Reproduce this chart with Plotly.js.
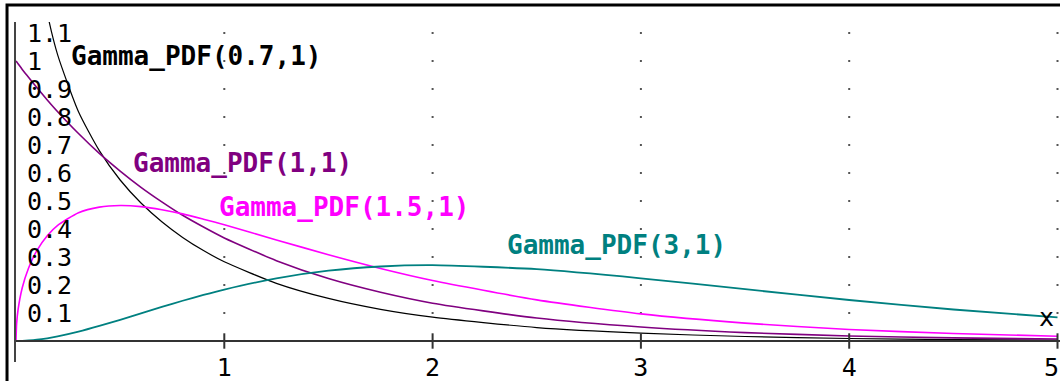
<!DOCTYPE html>
<html>
<head>
<meta charset="utf-8">
<script src="https://cdn.plot.ly/plotly-3.0.1.min.js"></script>
<style>html,body{margin:0;padding:0;background:#fff;}#chart{width:1060px;height:381px;}</style>
</head>
<body>
<div id="chart"></div>
<script>
// x positions at which the curves were read
const xs = [0, 0.003, 0.01, 0.03, 0.06, 0.1, 0.15, 0.2, 0.3, 0.4, 0.5, 0.6, 0.7, 0.8, 0.9, 1.0, 1.25, 1.5, 1.75, 2.0, 2.5, 3.0, 3.5, 4.0, 4.5, 5.0];
// Gamma_PDF(0.7,1)
const g07 = [null, null, null, null, 1.687, 1.391, 1.172, 1.022, 0.819, 0.680, 0.575, 0.493, 0.426, 0.370, 0.323, 0.283, 0.206, 0.152, 0.113, 0.085, 0.048, 0.028, 0.016, 0.009, 0.005, 0.003];
// Gamma_PDF(1,1)
const g1 = [1.0, 0.997, 0.990, 0.970, 0.942, 0.905, 0.861, 0.819, 0.741, 0.670, 0.607, 0.549, 0.497, 0.449, 0.407, 0.368, 0.287, 0.223, 0.174, 0.135, 0.082, 0.050, 0.030, 0.018, 0.011, 0.007];
// Gamma_PDF(1.5,1)
const g15 = [0, 0.062, 0.112, 0.190, 0.260, 0.323, 0.376, 0.413, 0.458, 0.478, 0.484, 0.480, 0.469, 0.454, 0.435, 0.415, 0.361, 0.308, 0.259, 0.216, 0.147, 0.097, 0.064, 0.041, 0.027, 0.017];
// Gamma_PDF(3,1)
const g3 = [0, 0, 0.0000, 0.0004, 0.0017, 0.0045, 0.0097, 0.0164, 0.0333, 0.0536, 0.0758, 0.0988, 0.1217, 0.1438, 0.1647, 0.1839, 0.2238, 0.2510, 0.2661, 0.2707, 0.2565, 0.2240, 0.1850, 0.1465, 0.1125, 0.0842];

const seriesNames = ['Gamma_PDF(0.7,1)', 'Gamma_PDF(1,1)', 'Gamma_PDF(1.5,1)', 'Gamma_PDF(3,1)'];
const seriesColors = ['#000000', '#800080', '#ff00ff', '#008080'];
const xTickVals = [1, 2, 3, 4, 5];
const xTickText = ['1', '2', '3', '4', '5'];
const yTickVals = [0.1, 0.2, 0.3, 0.4, 0.5, 0.6, 0.7, 0.8, 0.9, 1.0, 1.1];
const yTickText = ['0.1', '0.2', '0.3', '0.4', '0.5', '0.6', '0.7', '0.8', '0.9', '1', '1.1'];

const series = [g07, g1, g15, g3];
const widths = [1.2, 1.6, 1.6, 1.8];
const tickFont = {family: 'DejaVu Sans Mono', size: 25, color: '#000'};

const traces = [];
// dotted grid: a dot at every tick intersection
const gx = [], gy = [];
xTickVals.forEach(function (xv) { yTickVals.forEach(function (yv) { gx.push(xv); gy.push(yv); }); });
traces.push({x: gx, y: gy, mode: 'markers', type: 'scatter', hoverinfo: 'skip',
  marker: {symbol: 'square', size: 2, color: '#555', line: {width: 0}}, showlegend: false});

series.forEach(function (s, i) {
  traces.push({x: xs, y: s, type: 'scatter', mode: 'lines', name: seriesNames[i],
    line: {color: seriesColors[i], width: widths[i], shape: 'spline', smoothing: 0.6}, showlegend: false});
});

// crossing tick marks on the x axis
traces.push({x: xTickVals, y: xTickVals.map(function () { return 0; }), mode: 'markers', type: 'scatter',
  hoverinfo: 'skip', cliponaxis: false,
  marker: {symbol: 'line-ns', size: 11, line: {width: 2, color: '#333'}}, showlegend: false});

const labelPos = [
  {x: 0.255, y: 1.018},
  {x: 0.553, y: 0.636},
  {x: 0.966, y: 0.479},
  {x: 2.348, y: 0.343}
];
const annotations = seriesNames.map(function (n, i) {
  return {text: n, x: labelPos[i].x, y: labelPos[i].y, xref: 'x', yref: 'y', xanchor: 'left', yanchor: 'middle',
    showarrow: false, font: {family: 'DejaVu Sans Mono', size: 26, color: seriesColors[i], weight: 'bold'}};
});
annotations.push({text: 'x', x: 4.945, y: 0.085, xref: 'x', yref: 'y', xanchor: 'center', yanchor: 'middle',
  showarrow: false, font: tickFont});
// last x tick label is pushed inside the right edge, as in the reference
const lastIdx = xTickVals.length - 1;
annotations.push({text: xTickText[lastIdx], x: 1, y: -5 / 340, xref: 'paper', yref: 'paper',
  xanchor: 'right', yanchor: 'middle', showarrow: false, borderpad: 0, font: tickFont});
const xTickShown = xTickText.map(function (t, i) { return i === lastIdx ? '' : t; });

const layout = {
  width: 1060, height: 381,
  margin: {l: 16, r: 0, t: 22, b: 19, pad: 0},
  paper_bgcolor: '#ffffff', plot_bgcolor: '#ffffff',
  showlegend: false,
  xaxis: {range: [0, 5.012], tickvals: xTickVals, ticktext: xTickShown, ticks: '', showgrid: false,
    zeroline: false, showline: true, linecolor: '#333', linewidth: 2,
    anchor: 'free', position: 21 / 340, automargin: false,
    ticklabeloverflow: 'allow', ticklabelstandoff: 4,
    tickfont: tickFont},
  yaxis: {range: [-0.075, 1.1393], tickvals: yTickVals, ticktext: yTickText, ticks: '', showgrid: false,
    zeroline: false, showline: true, linecolor: '#444', linewidth: 2,
    ticklabelposition: 'inside', automargin: false,
    ticklabeloverflow: 'allow', ticklabelstandoff: 13,
    tickfont: tickFont},
  annotations: annotations,
  shapes: [
    {type: 'path', xref: 'paper', yref: 'paper', path: 'M -0.0086 -0.2 L -0.0086 1.05 L 1.2 1.05',
      line: {color: '#000', width: 3}}
  ]
};

Plotly.newPlot('chart', traces, layout, {staticPlot: true, displayModeBar: false});
</script>
</body>
</html>
